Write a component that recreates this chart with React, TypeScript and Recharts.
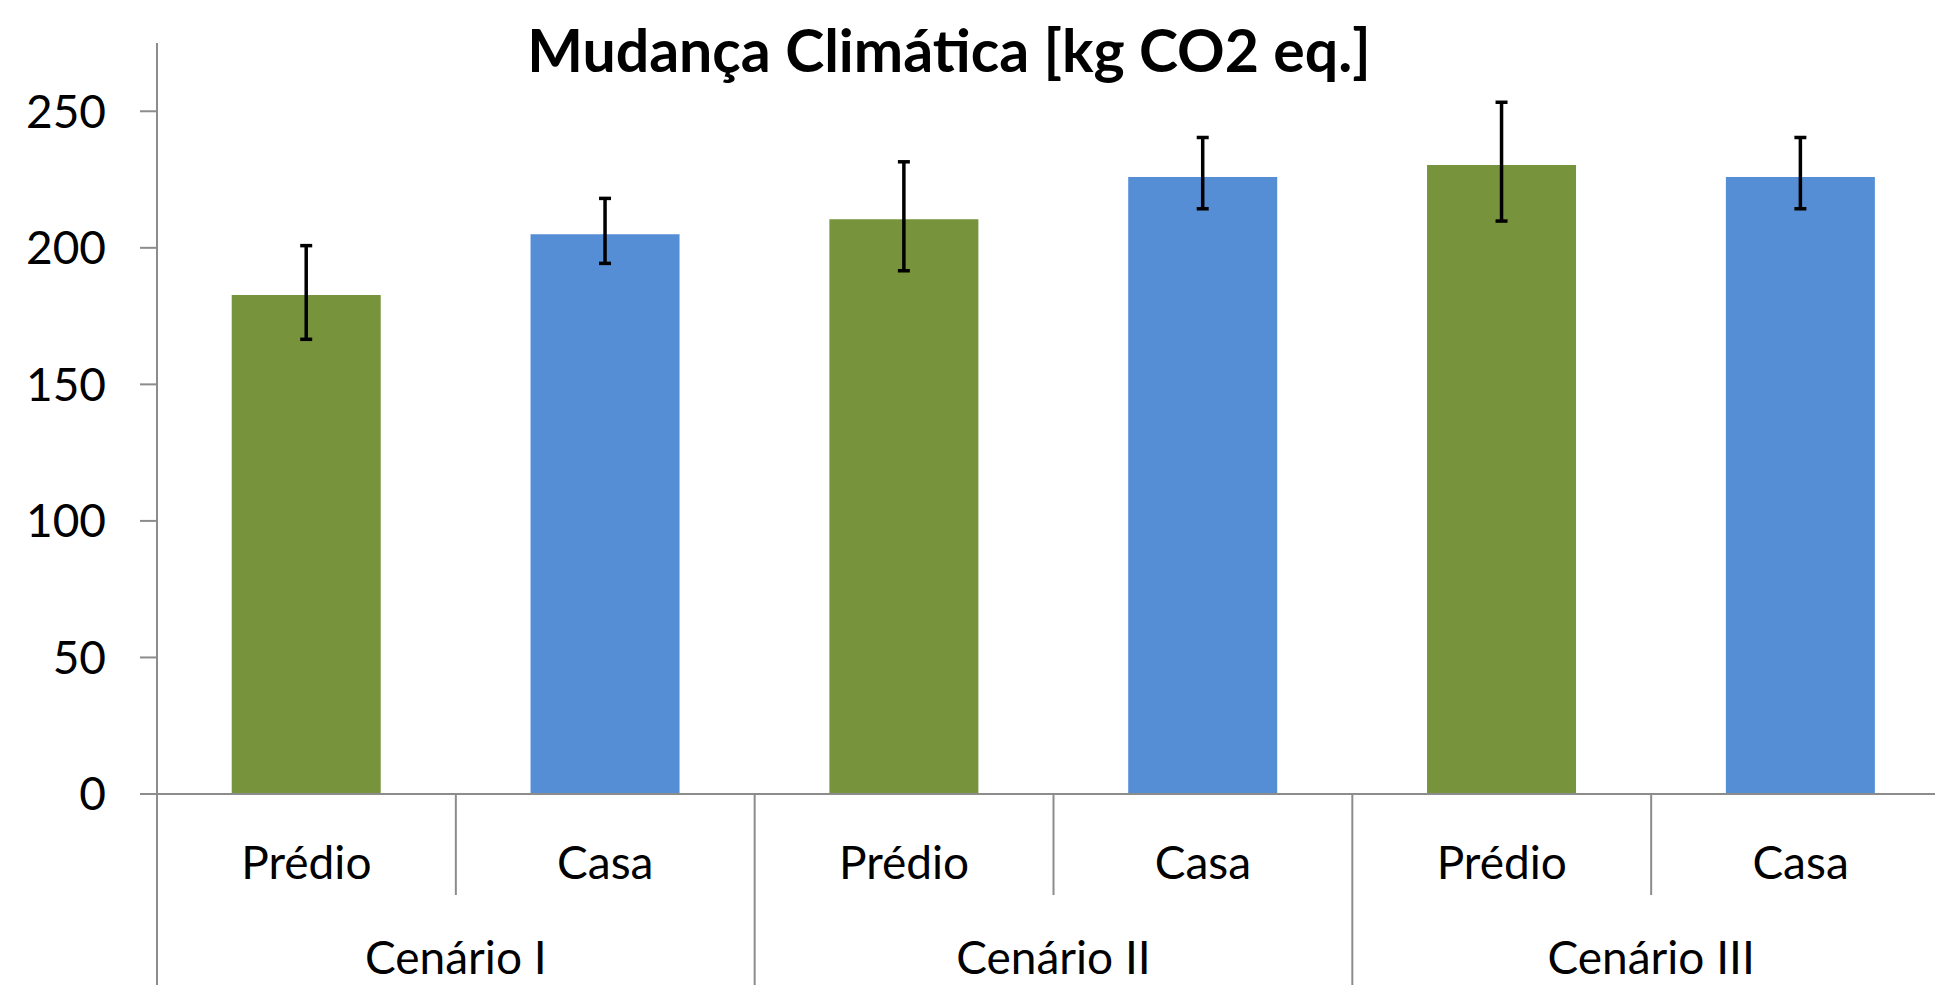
import { BarChart, Bar, Cell, ErrorBar, XAxis, YAxis } from 'recharts';

// values
const scenarios = ['Cenário I', 'Cenário II', 'Cenário III'];
const buildingTypes = ['Prédio', 'Casa'];
const impact = [182.7, 205.0, 210.5, 225.9, 230.3, 225.9];
const errLow = [16.2, 10.7, 18.9, 11.6, 20.5, 11.6];
const errHigh = [18.1, 13.1, 21.0, 14.5, 23.0, 14.5];
const yTicks = [0, 50, 100, 150, 200, 250];
const title = 'Mudança Climática [kg CO2 eq.]';

const GREEN = '#77933C';
const BLUE = '#558ED5';
const AXIS = '#8C8C8C';
const FONT = 'Lato, "Open Sans", sans-serif';

const data = scenarios.flatMap((scenario, s) =>
  buildingTypes.map((type, t) => {
    const i = s * buildingTypes.length + t;
    return {
      id: `${scenario}-${type}`,
      scenario,
      type,
      value: impact[i],
      err: [errLow[i], errHigh[i]],
    };
  })
);

const CHART_W = 1960;
const CHART_H = 1000;
const Y_AXIS_W = 157;
const MARGIN = { top: 43, right: 10, bottom: 0, left: 0 };
const X_AXIS_H = 206;
const band = (CHART_W - Y_AXIS_W - MARGIN.right - MARGIN.left) / data.length;

function CategoryTick(props: any) {
  const { x, y, index } = props;
  const row = data[index];
  if (!row) return null;
  const right = x + band / 2;
  const endOfGroup = index % buildingTypes.length === buildingTypes.length - 1;
  return (
    <g>
      {index === 0 && (
        <line x1={x - band / 2} y1={y} x2={x - band / 2} y2={y + 300} stroke={AXIS} strokeWidth={2} />
      )}
      <line x1={right} y1={y} x2={right} y2={endOfGroup ? y + 300 : y + 101} stroke={AXIS} strokeWidth={2} />
      <text x={x} y={y + 85} textAnchor="middle" fontFamily={FONT} fontSize={46} fill="#000">
        {row.type}
      </text>
      {index % buildingTypes.length === 0 && (
        <text x={right} y={y + 180} textAnchor="middle" fontFamily={FONT} fontSize={46} fill="#000">
          {row.scenario}
        </text>
      )}
    </g>
  );
}

export default function App() {
  return (
    <div style={{ position: 'absolute', left: 0, top: 0, width: 1935, height: 985, overflow: 'hidden', background: '#fff' }}>
      <div
        style={{
          position: 'absolute',
          left: 0,
          top: 20,
          width: 1898,
          textAlign: 'center',
          fontFamily: FONT,
          fontWeight: 700,
          fontSize: 59,
          lineHeight: '59px',
          color: '#000',
        }}
      >
        {title}
      </div>
      <BarChart width={CHART_W} height={CHART_H} data={data} margin={MARGIN} barCategoryGap="25%">
        <XAxis
          dataKey="id"
          height={X_AXIS_H}
          interval={0}
          tickSize={0}
          tickMargin={0}
          tick={<CategoryTick />}
          axisLine={{ stroke: AXIS, strokeWidth: 2 }}
          tickLine={false}
        />
        <YAxis
          width={Y_AXIS_W}
          domain={[0, 275]}
          ticks={yTicks}
          interval={0}
          tickSize={17}
          tickMargin={34}
          axisLine={{ stroke: AXIS, strokeWidth: 2 }}
          tickLine={{ stroke: AXIS, strokeWidth: 2 }}
          tick={{ fontFamily: FONT, fontSize: 46, fill: '#000' }}
        />
        <Bar dataKey="value" isAnimationActive={false}>
          {data.map((d) => (
            <Cell key={d.id} fill={d.type === buildingTypes[0] ? GREEN : BLUE} />
          ))}
          <ErrorBar dataKey="err" width={6} stroke="#000" strokeWidth={3.5} direction="y" isAnimationActive={false} />
        </Bar>
      </BarChart>
    </div>
  );
}
